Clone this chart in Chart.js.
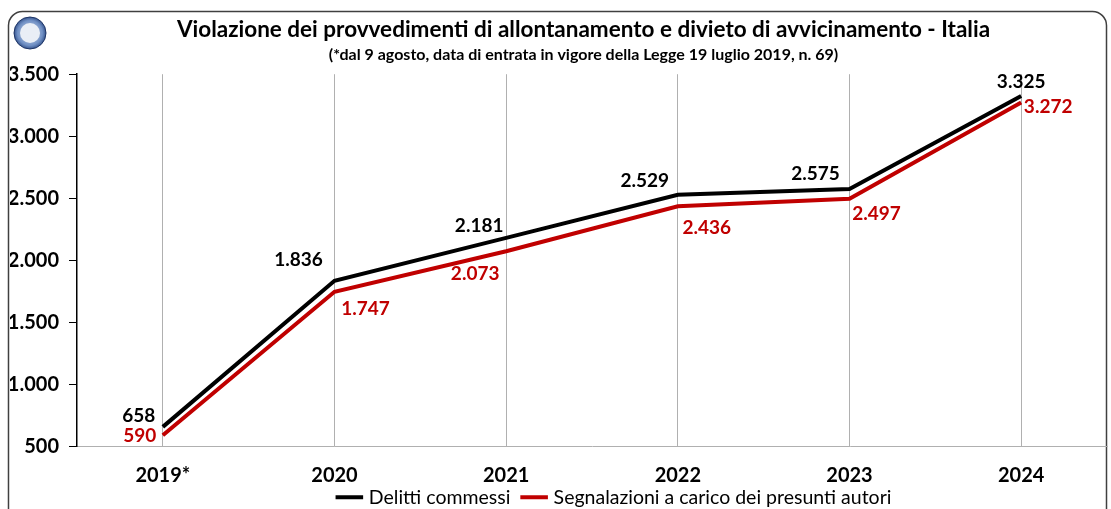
<!DOCTYPE html>
<html>
<head>
<meta charset="utf-8">
<script src="https://cdn.jsdelivr.net/npm/chart.js@4/dist/chart.umd.min.js"></script>
<style>
  body { margin: 0; background: #fff; }
  #wrap { width: 1111px; height: 509px; position: relative; }
</style>
</head>
<body>
<div id="wrap"><canvas id="violazioni"></canvas></div>
<script>
// values
var years = ['2019*', '2020', '2021', '2022', '2023', '2024'];
var delitti = [658, 1836, 2181, 2529, 2575, 3325];
var segnalazioni = [590, 1747, 2073, 2436, 2497, 3272];
var yTicks = [500, 1000, 1500, 2000, 2500, 3000, 3500];

// where each value label sits relative to its point (dx, dy)
var offDelitti = [[-24, -11], [-36, -21], [-27, -12], [-33, -14], [-34, -15], [0, -14]];
var offSegn = [[-23, 1], [31, 17], [-31, 23], [29, 22], [27, 15], [27, 4]];

var FONT = 'Lato, "Open Sans", sans-serif';

function fmt(v) {
    return String(v).replace(/\B(?=(\d{3})+(?!\d))/g, '.');
}

// frame + logo, and nudge the title / legend blocks right like in the original
var framePlugin = {
    id: 'frame',
    afterLayout: function(chart) {
        chart.boxes.forEach(function(b) {
            if (b === chart.legend) {
                b.left += 57; b.right += 57;
            } else if (b.options && b.options.text) {
                b.left += 25; b.right += 25;
            }
        });
    },
    beforeDraw: function(chart) {
        var c = chart.ctx;
        c.save();
        c.strokeStyle = '#404040';
        c.lineWidth = 1.5;
        c.beginPath();
        c.roundRect(8.5, 11.5, 1098, 530, 14);
        c.stroke();
        // logo
        var g = c.createRadialGradient(30, 33, 2, 30, 33, 17);
        g.addColorStop(0, '#c9d6ea');
        g.addColorStop(0.7, '#6f8fc4');
        g.addColorStop(1, '#27457f');
        c.fillStyle = g;
        c.beginPath();
        c.arc(30, 33, 16, 0, Math.PI * 2);
        c.fill();
        c.strokeStyle = '#1d3466';
        c.lineWidth = 1;
        c.stroke();
        c.fillStyle = '#e9eef6';
        c.beginPath();
        c.arc(30, 33, 10, 0, Math.PI * 2);
        c.fill();
        c.restore();
    }
};

// value labels next to the points
var valuePlugin = {
    id: 'values',
    afterDatasetsDraw: function(chart) {
        var c = chart.ctx;
        var offs = [offDelitti, offSegn];
        c.save();
        c.font = 'bold 19px ' + FONT;
        c.textAlign = 'center';
        c.textBaseline = 'middle';
        chart.data.datasets.forEach(function(ds, i) {
            var meta = chart.getDatasetMeta(i);
            c.fillStyle = ds.labelColor;
            meta.data.forEach(function(pt, j) {
                c.fillText(fmt(ds.data[j]), pt.x + offs[i][j][0], pt.y + offs[i][j][1]);
            });
        });
        c.restore();
    }
};

var ctx = document.getElementById('violazioni').getContext('2d');
var chart = new Chart(ctx, {
    type: 'line',
    data: {
        labels: years,
        datasets: [{
            label: 'Delitti commessi',
            data: delitti,
            borderColor: '#000000',
            backgroundColor: '#000000',
            labelColor: '#000000',
            borderWidth: 4,
            pointRadius: 0,
            tension: 0
        }, {
            label: 'Segnalazioni a carico dei presunti autori',
            data: segnalazioni,
            borderColor: '#c00000',
            backgroundColor: '#c00000',
            labelColor: '#c00000',
            borderWidth: 4,
            pointRadius: 0,
            tension: 0
        }]
    },
    options: {
        responsive: true,
        maintainAspectRatio: false,
        animation: false,
        layout: { padding: { left: 10, right: 4, top: 0, bottom: -8 } },
        plugins: {
            title: {
                display: true,
                text: 'Violazione dei provvedimenti di allontanamento e divieto di avvicinamento - Italia',
                color: '#000',
                font: { family: FONT, size: 22.5, weight: 'bold' },
                padding: { top: 16, bottom: 2 }
            },
            subtitle: {
                display: true,
                text: '(*dal 9 agosto, data di entrata in vigore della Legge 19 luglio 2019, n. 69)',
                color: '#000',
                font: { family: FONT, size: 16, weight: 'bold' },
                padding: { top: 0, bottom: 10 }
            },
            legend: {
                position: 'bottom',
                labels: {
                    color: '#000',
                    font: { family: FONT, size: 19.5 },
                    usePointStyle: true,
                    pointStyle: 'line',
                    boxWidth: 32,
                    padding: 4,
                    generateLabels: function(chart) {
                        var items = Chart.defaults.plugins.legend.labels.generateLabels(chart);
                        // a bit more room between the two entries
                        items.forEach(function(it, i) {
                            if (i < items.length - 1) it.text = it.text + '  ';
                        });
                        return items;
                    }
                }
            },
            tooltip: { enabled: false }
        },
        scales: {
            x: {
                offset: true,
                grid: { offset: false, color: '#b0b0b0', lineWidth: 1, tickLength: 0 },
                border: { color: '#b0b0b0', width: 1 },
                ticks: { color: '#000', padding: 17, font: { family: FONT, size: 20, weight: 'bold' } },
                afterFit: function(scale) { scale.height = 37; }
            },
            y: {
                min: 500,
                max: 3500,
                afterBuildTicks: function(scale) {
                    scale.ticks = yTicks.map(function(v) { return { value: v }; });
                },
                grid: { drawOnChartArea: false, color: '#000', tickLength: 8 },
                border: { color: '#000', width: 1.5 },
                ticks: {
                    color: '#000',
                    padding: 10,
                    font: { family: FONT, size: 20, weight: 'bold' },
                    callback: function(v) { return fmt(v); }
                },
                afterFit: function(scale) { scale.width = 67; }
            }
        }
    },
    plugins: [framePlugin, valuePlugin]
});
</script>
</body>
</html>
